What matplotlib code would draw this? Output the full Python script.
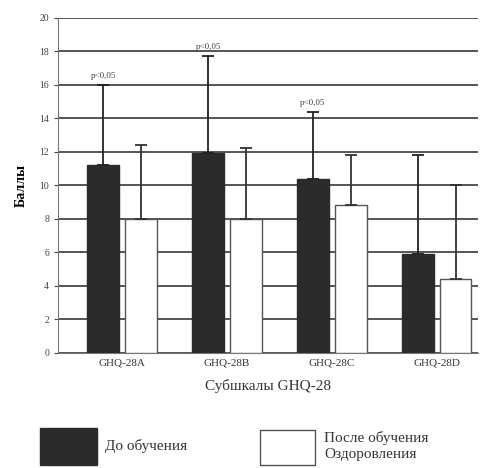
import matplotlib.pyplot as plt
import numpy as np
from matplotlib.patches import Rectangle

plt.rcParams['font.family'] = ['Liberation Serif', 'DejaVu Serif']

subscales = ["GHQ-28A", "GHQ-28B", "GHQ-28C", "GHQ-28D"]
before = [11.2, 11.9, 10.4, 5.9]
before_err = [4.8, 5.8, 4.0, 5.9]
after = [8.0, 8.0, 8.8, 4.4]
after_err = [4.4, 4.2, 3.0, 5.6]
pvals = ["p<0,05", "p<0,05", "p<0,05", None]

fig = plt.figure(figsize=(4.92, 4.68), dpi=100)
ax = fig.add_axes([0.118, 0.246, 0.853, 0.716])

x = np.arange(len(subscales))
w = 0.30
off = 0.18
ax.bar(x - off, before, w, color="#2b2b2b", edgecolor="#2b2b2b", zorder=3)
ax.bar(x + off, after, w, color="white", edgecolor="#555555", lw=1, zorder=3)
ax.errorbar(x - off, before, yerr=[np.zeros(4), before_err], fmt="none",
            ecolor="#222222", elinewidth=1.3, capsize=4, capthick=1.3, zorder=4)
ax.errorbar(x + off, after, yerr=[np.zeros(4), after_err], fmt="none",
            ecolor="#333333", elinewidth=1.3, capsize=4, capthick=1.3, zorder=4)

for i, p in enumerate(pvals):
    if p:
        ax.text(x[i] - off, before[i] + before_err[i] + 0.3, p,
                ha="center", va="bottom", fontsize=6.5, color="#444444")

ax.set_xlim(-0.61, 3.39)
ax.set_ylim(0, 20)
ax.set_yticks(range(0, 21, 2))
ax.yaxis.grid(True, color="#555555", lw=1.4, zorder=0)
ax.set_axisbelow(True)
for s in ["top", "right"]:
    ax.spines[s].set_visible(False)
ax.spines["left"].set_color("#777777")
ax.spines["bottom"].set_color("#777777")
ax.tick_params(axis="y", labelsize=7, colors="#444444", length=3)
ax.tick_params(axis="x", labelsize=8, colors="#333333", length=0, pad=4)
ax.set_xticks(x)
ax.set_xticklabels(subscales)
ax.set_ylabel("Баллы", fontsize=10, fontweight="bold", labelpad=8)
ax.set_xlabel("Субшкалы GHQ-28", fontsize=11, color="#333333", labelpad=8)

# legend drawn by hand under the axes
fig.patches.append(Rectangle((40 / 492, 1 - 465 / 468), 57 / 492, 37 / 468,
                             transform=fig.transFigure, facecolor="#2b2b2b",
                             edgecolor="#2b2b2b"))
fig.text(105 / 492, 1 - 446 / 468, "До обучения", fontsize=11,
         va="center", ha="left", color="#333333")
fig.patches.append(Rectangle((260 / 492, 1 - 465 / 468), 55 / 492, 35 / 468,
                             transform=fig.transFigure, facecolor="white",
                             edgecolor="#555555", lw=1))
fig.text(324 / 492, 1 - 446 / 468, "После обучения\nОздоровления", fontsize=11,
         va="center", ha="left", color="#333333", linespacing=1.35)

fig.savefig("out.png", dpi=100)
